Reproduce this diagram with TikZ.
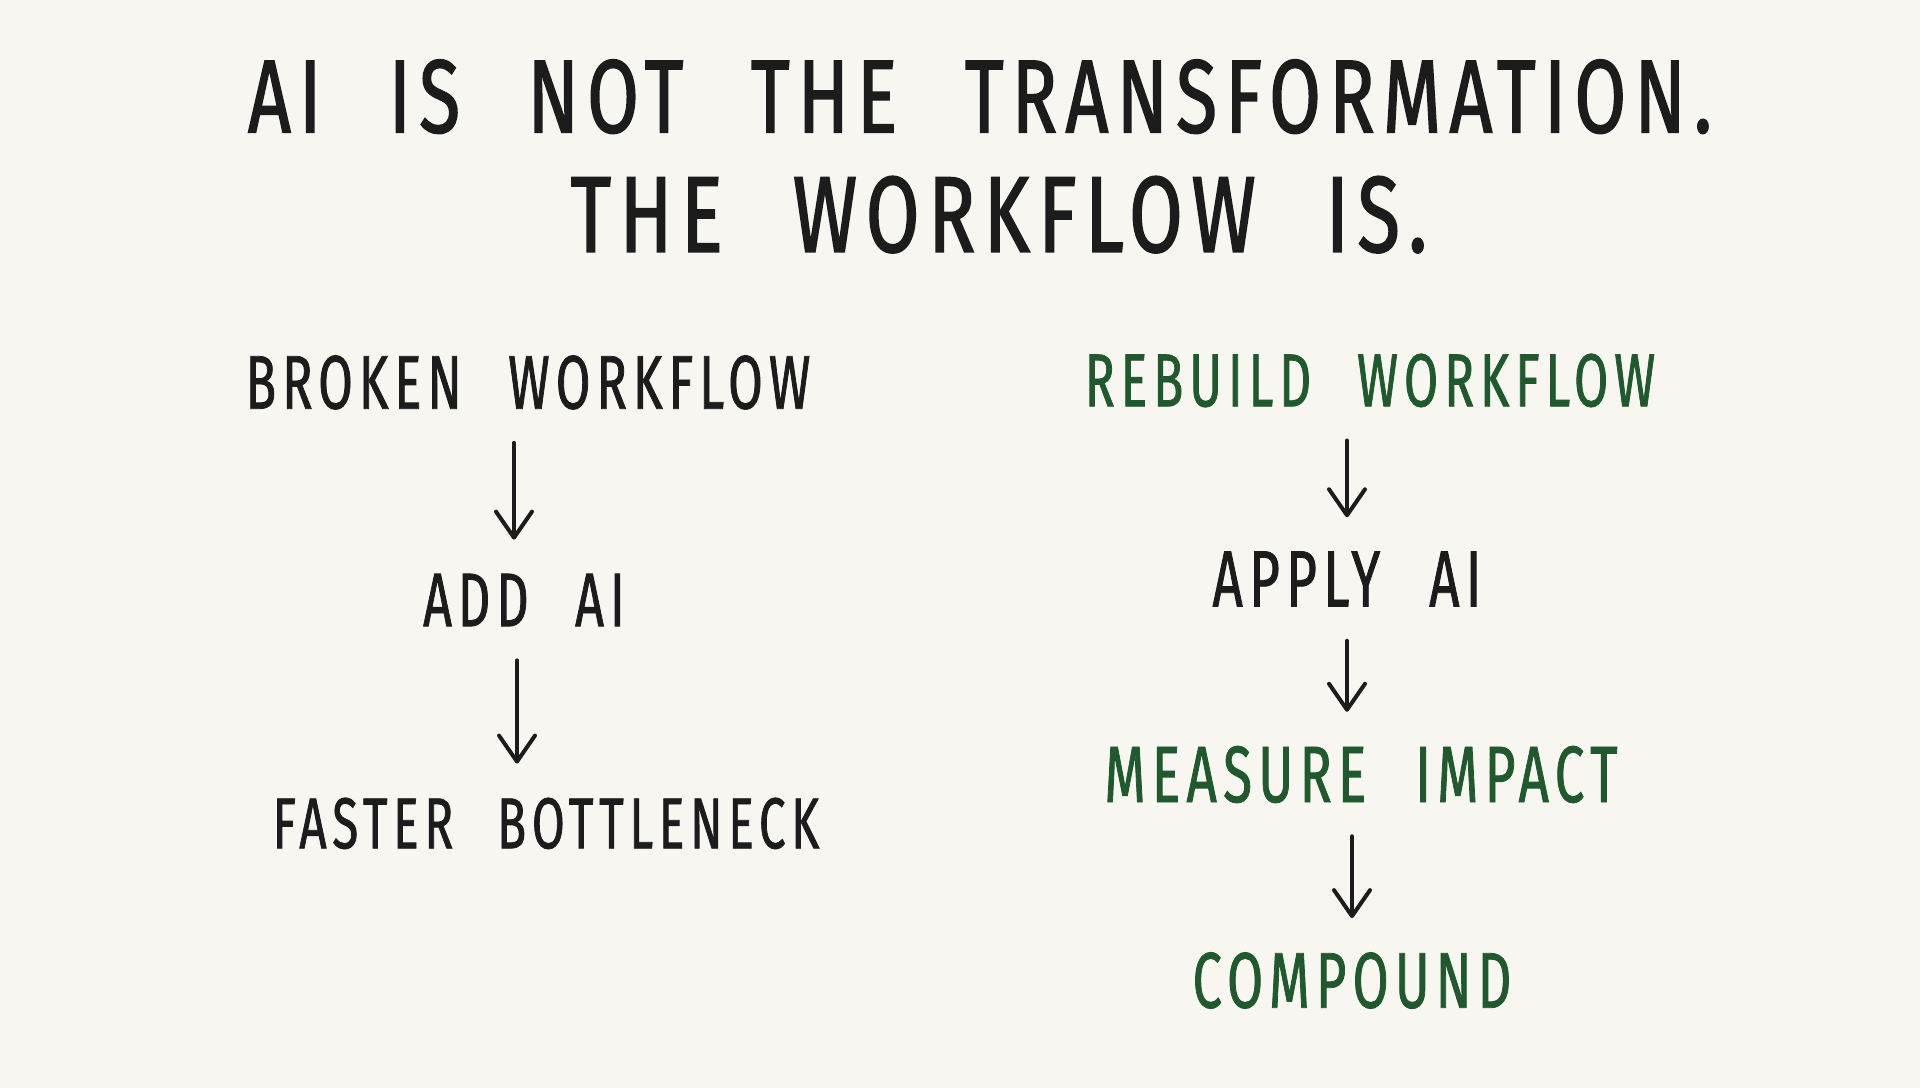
\documentclass[tikz,border=0pt]{standalone}
\usepackage{fontspec}
\setmainfont{Fira Sans}[FakeStretch=0.72,FakeBold=1.4,LetterSpace=8,WordSpace=2.4]
\newfontfamily\stepfont{Fira Sans}[FakeStretch=0.66,FakeBold=1,LetterSpace=8,WordSpace=2.4]
\usetikzlibrary{arrows.meta}

\definecolor{paper}{HTML}{F7F6F1}
\definecolor{ink}{HTML}{1C1C1C}
\definecolor{leaf}{HTML}{21592E}

\tikzset{
  flow/.style={line width=4pt, line cap=round, color=ink, -{Straight Barb[round, length=26pt, width=36pt]}, shorten <=34pt, shorten >=34pt}
}

\begin{document}
\begin{tikzpicture}
[x=1pt, y=-1pt, every node/.style={inner sep=0pt, text depth=0pt}]
\fill [paper] (0,0) rectangle (1920,1088);
\node (title1) [font=\fontsize{104}{104}\selectfont, text=ink] at (980, 96) {AI IS NOT THE TRANSFORMATION.};
\node (title2) [font=\fontsize{108}{108}\selectfont, text=ink] at (999, 214) {THE WORKFLOW IS.};
\node (broken) [font=\stepfont\fontsize{76}{76}\selectfont, text=ink] at (528, 382) {BROKEN WORKFLOW};
\node (addai) [font=\stepfont\fontsize{76}{76}\selectfont, text=ink] at (524, 600) {ADD AI};
\node (faster) [font=\stepfont\fontsize{72}{72}\selectfont, text=ink] at (546, 823) {FASTER BOTTLENECK};
\node (rebuild) [font=\stepfont\fontsize{75}{75}\selectfont, text=leaf] at (1370, 380) {REBUILD WORKFLOW};
\node (apply) [font=\stepfont\fontsize{80}{80}\selectfont, text=ink] at (1347, 579) {APPLY AI};
\node (measure) [font=\stepfont\fontsize{80}{80}\selectfont, text=leaf] at (1361, 774) {MEASURE IMPACT};
\node (compound) [font=\stepfont\fontsize{79}{79}\selectfont, text=leaf] at (1352, 980) {COMPOUND};
\draw [flow] ([xshift=-10pt]broken.south -| addai) to ([xshift=-10pt]addai.north);
\draw [flow] ([xshift=-7pt]addai.south) to ([xshift=-7pt]addai.south |- faster.north);
\draw [flow] (rebuild.south -| apply) to (apply.north);
\draw [flow] (apply.south) to (apply.south |- measure.north);
\draw [flow] (measure.south -| compound) to (compound.north);

\end{tikzpicture}
\end{document}
